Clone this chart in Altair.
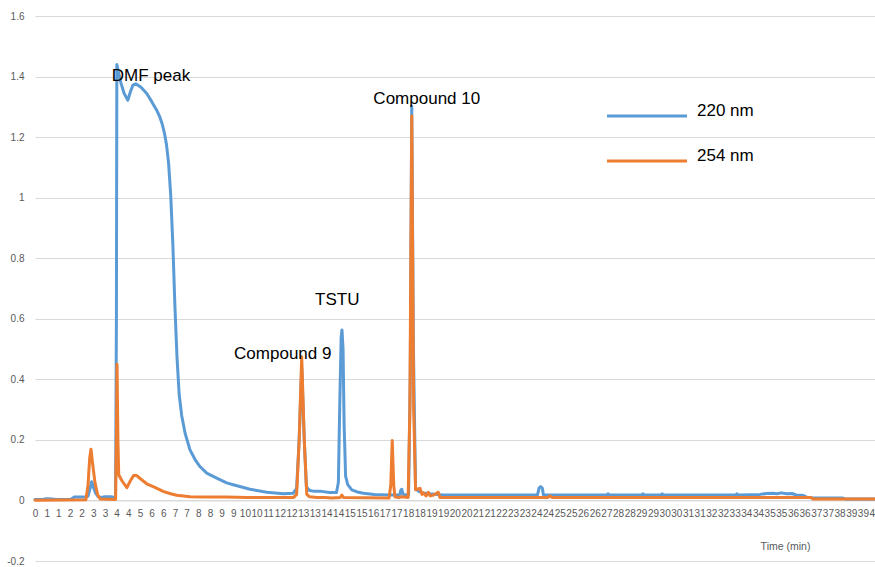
import json

import altair as alt
import pandas as pd

# HPLC chromatogram: retention time (min) vs absorbance for two detector wavelengths
SERIES = ["220 nm", "254 nm"]
COLORS = ["#5B9BD5", "#ED7D31"]

T_220 = [0.00, 0.40, 0.55, 0.80, 1.00, 1.70, 1.85, 2.30, 2.50, 2.60, 2.67, 2.75, 2.85, 2.97, 3.10,
         3.30, 3.60, 3.80, 3.84, 3.86, 3.92, 4.05, 4.20, 4.38, 4.50, 4.62, 4.75, 5.00, 5.27, 5.50,
         5.74, 5.90, 6.00, 6.10, 6.20, 6.30, 6.40, 6.50, 6.60, 6.70, 6.80, 6.92, 7.08, 7.31, 7.55,
         7.78, 8.10, 8.57, 9.04, 9.35, 10.14, 10.93, 11.71, 12.18, 12.34, 12.46, 12.58, 12.70,
         12.80, 12.95, 13.20, 13.50, 13.90, 14.22, 14.31, 14.37, 14.44, 14.48, 14.53, 14.58, 14.65,
         14.75, 14.94, 15.20, 15.49, 16.00, 16.75, 17.20, 17.26, 17.30, 17.36, 17.62, 17.70, 17.77,
         17.85, 17.95, 18.10, 18.30, 18.60, 19.00, 19.20, 23.70, 23.77, 23.85, 23.93, 23.98, 26.98,
         27.03, 27.08, 28.63, 28.68, 28.73, 29.53, 29.58, 29.63, 33.05, 33.11, 33.17, 34.20, 34.50,
         34.80, 35.00, 35.20, 35.45, 35.70, 35.90, 36.25, 36.40, 36.70, 38.10, 38.20, 39.60]
A_220 = [0.003, 0.004, 0.006, 0.005, 0.003, 0.004, 0.011, 0.011, 0.014, 0.040, 0.062, 0.045, 0.025,
         0.013, 0.010, 0.012, 0.012, 0.008, 0.600, 1.440, 1.420, 1.380, 1.345, 1.322, 1.350, 1.372,
         1.376, 1.365, 1.344, 1.318, 1.289, 1.264, 1.243, 1.215, 1.176, 1.115, 1.010, 0.850, 0.640,
         0.470, 0.350, 0.280, 0.222, 0.167, 0.135, 0.112, 0.090, 0.074, 0.058, 0.052, 0.037, 0.027,
         0.022, 0.024, 0.040, 0.200, 0.440, 0.200, 0.045, 0.033, 0.030, 0.030, 0.026, 0.026, 0.060,
         0.300, 0.540, 0.563, 0.500, 0.250, 0.080, 0.052, 0.035, 0.028, 0.024, 0.020, 0.018, 0.018,
         0.035, 0.037, 0.020, 0.018, 0.400, 1.302, 0.500, 0.040, 0.030, 0.025, 0.022, 0.020, 0.018,
         0.018, 0.040, 0.046, 0.040, 0.018, 0.018, 0.022, 0.018, 0.018, 0.022, 0.018, 0.018, 0.022,
         0.018, 0.018, 0.022, 0.018, 0.020, 0.023, 0.024, 0.022, 0.025, 0.022, 0.023, 0.018, 0.016,
         0.011, 0.008, 0.008, 0.005, 0.005]

T_254 = [0.00, 2.40, 2.50, 2.58, 2.64, 2.72, 2.83, 2.95, 3.07, 3.80, 3.84, 3.87, 3.91, 3.95, 4.10,
         4.33, 4.50, 4.65, 4.80, 5.00, 5.27, 5.60, 5.90, 6.04, 6.40, 6.68, 7.31, 8.00, 9.00, 10.00,
         11.00, 12.20, 12.34, 12.46, 12.58, 12.70, 12.82, 12.95, 13.30, 13.70, 14.00, 14.40, 14.47,
         14.55, 16.70, 16.78, 16.85, 16.92, 16.98, 17.15, 17.30, 17.60, 17.68, 17.77, 17.86, 17.95,
         18.00, 18.16, 18.25, 18.32, 18.45, 18.55, 18.65, 18.80, 19.02, 19.10, 24.20, 24.29, 24.38,
         36.60, 36.70, 39.60]
A_254 = [0.001, 0.002, 0.050, 0.140, 0.169, 0.120, 0.058, 0.020, 0.005, 0.003, 0.200, 0.450, 0.200,
         0.085, 0.065, 0.042, 0.065, 0.082, 0.082, 0.070, 0.055, 0.045, 0.035, 0.030, 0.022, 0.017,
         0.012, 0.011, 0.011, 0.010, 0.010, 0.010, 0.020, 0.200, 0.475, 0.200, 0.020, 0.012, 0.010,
         0.010, 0.008, 0.010, 0.018, 0.010, 0.008, 0.050, 0.198, 0.050, 0.012, 0.010, 0.012, 0.010,
         0.300, 1.270, 0.300, 0.035, 0.037, 0.040, 0.020, 0.025, 0.015, 0.027, 0.015, 0.018, 0.027,
         0.010, 0.010, 0.015, 0.010, 0.010, 0.005, 0.005]

# Peak annotations (text anchored at left end, on the baseline)
PEAK_NAMES = ["DMF peak", "Compound 10", "TSTU", "Compound 9"]
PEAK_T = [3.62, 15.96, 13.21, 9.39]
PEAK_A = [1.386, 1.311, 0.646, 0.466]

# Category-style time axis: one label every 0.55 min, shown rounded to whole minutes
TICK_STEP = 0.55
X_TICK_LABELS = ["0", "1", "1", "2", "2", "3", "3", "4", "4", "5", "6", "6", "7", "7", "8", "8",
                 "9", "9", "10", "10", "11", "12", "12", "13", "13", "14", "14", "15", "15", "16",
                 "17", "17", "18", "18", "19", "19", "20", "20", "21", "21", "22", "23", "23", "24",
                 "24", "25", "25", "26", "26", "27", "28", "28", "29", "29", "30", "30", "31", "31",
                 "32", "32", "33", "34", "34", "35", "35", "36", "36", "37", "37", "38", "39", "39",
                 "40"]
X_TICK_TIMES = [round(k * TICK_STEP, 2) for k in range(len(X_TICK_LABELS))]

Y_TICKS = [-0.2, 0.0, 0.2, 0.4, 0.6, 0.8, 1.0, 1.2, 1.4, 1.6]
Y_TICK_LABELS = ["-0.2", "0", "0.2", "0.4", "0.6", "0.8", "1", "1.2", "1.4", "1.6"]

FONT = "Liberation Sans"
PLOT_W, PLOT_H = 840, 545
Y_MIN, Y_MAX = -0.2, 1.6

traces = pd.concat([
    pd.DataFrame({"time": T_220, "absorbance": A_220, "wavelength": SERIES[0]}),
    pd.DataFrame({"time": T_254, "absorbance": A_254, "wavelength": SERIES[1]}),
], ignore_index=True)
peaks = pd.DataFrame({"time": PEAK_T, "absorbance": PEAK_A, "name": PEAK_NAMES})

# the time axis sits on the zero line, not on the bottom edge
zero_offset = -PLOT_H * (0 - Y_MIN) / (Y_MAX - Y_MIN)

x_enc = alt.X(
    "time:Q",
    scale=alt.Scale(domain=[0, 39.62], nice=False, zero=False),
    axis=alt.Axis(
        values=X_TICK_TIMES,
        labelExpr=f"{json.dumps(X_TICK_LABELS)}[round(datum.value / {TICK_STEP})]",
        labelOverlap=False,
        labelFlush=False,
        labelAngle=0,
        labelFontSize=10,
        labelColor="#595959",
        labelPadding=8,
        ticks=False,
        grid=False,
        domain=True,
        domainColor="#D9D9D9",
        domainWidth=1,
        offset=zero_offset,
        zindex=0,
        title="Time (min)",
        titleFontSize=10.5,
        titleFontWeight="normal",
        titleColor="#595959",
        titleX=750,
        titleY=46,
        titleAlign="center",
        titleBaseline="middle",
    ),
)
y_enc = alt.Y(
    "absorbance:Q",
    scale=alt.Scale(domain=[Y_MIN, Y_MAX], nice=False, zero=False),
    axis=alt.Axis(
        values=Y_TICKS,
        labelExpr=f"{json.dumps(Y_TICK_LABELS)}[round((datum.value + 0.2) / 0.2)]",
        labelFontSize=10,
        labelColor="#595959",
        labelPadding=11,
        ticks=False,
        domain=False,
        grid=True,
        gridColor="#D9D9D9",
        gridWidth=1,
        title=None,
        zindex=0,
    ),
)

lines = alt.Chart(traces).mark_line(strokeWidth=3, strokeJoin="round", strokeCap="round").encode(
    x=x_enc,
    y=y_enc,
    color=alt.Color(
        "wavelength:N",
        scale=alt.Scale(domain=SERIES, range=COLORS),
        legend=alt.Legend(
            orient="none",
            legendX=570.5,
            legendY=90,
            title=None,
            padding=0,
            symbolType="stroke",
            symbolSize=6400,
            symbolStrokeWidth=3,
            clipHeight=20,
            rowPadding=21,
            labelOffset=8.5,
            labelFontSize=17,
            labelFont=FONT,
            labelColor="#000000",
            labelBaseline="alphabetic",
            labelLimit=200,
        ),
    ),
    order=alt.Order("time:Q"),
)

labels = alt.Chart(peaks).mark_text(
    align="left", baseline="alphabetic", fontSize=17, font=FONT, color="#000000"
).encode(x=x_enc, y=y_enc, text="name:N")

chart = (
    alt.layer(lines, labels)
    .properties(
        width=PLOT_W,
        height=PLOT_H,
        autosize=alt.AutoSizeParams(type="none"),
        padding={"left": 35, "top": 16, "right": 0, "bottom": 6},
        background="#FFFFFF",
    )
    .configure_view(stroke=None)
    .configure_axis(labelFont=FONT, titleFont=FONT)
)

chart.save("out.html", embed_options={"renderer": "svg", "actions": False})
